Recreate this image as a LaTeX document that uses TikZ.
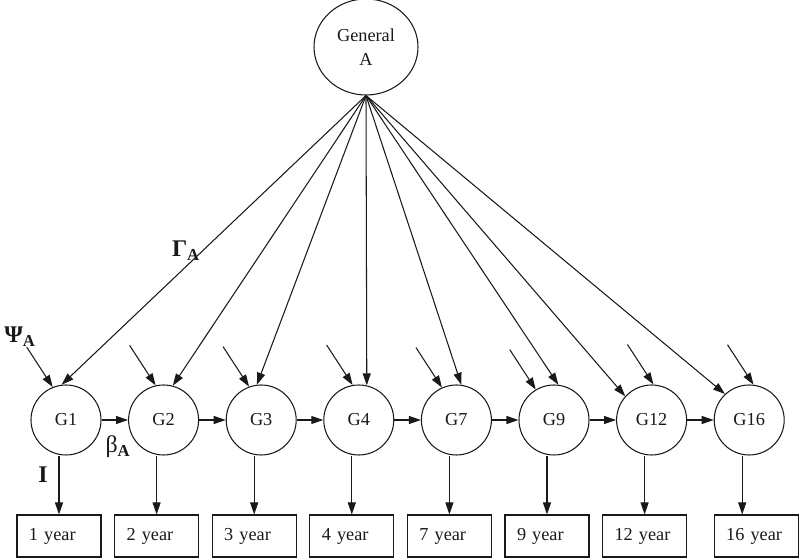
\documentclass[tikz,border=0pt]{standalone}
\usepackage{amsmath, amssymb}
\usepackage{bm}
\usepackage{fontspec}
\setmainfont{Liberation Serif}
\usetikzlibrary{arrows.meta, positioning, shapes.geometric, calc}
\definecolor{inkBlack}{gray}{0.1}

\begin{document}
\begin{tikzpicture}[>={Triangle[length=3mm, width=2mm]}, line width=0.75pt, inkBlack,
        latent/.style={circle, draw, minimum size=1.75cm, inner sep=0pt, font=\fontsize{13}{15}\selectfont},
        obsbox/.style={rectangle, draw, text width=1.5cm, inner xsep=0.3cm, minimum height=1.05cm,
                       align=left, font=\fontsize{13}{15}\selectfont},
        greek/.style={font=\fontsize{17}{19}\selectfont\bfseries, inner sep=1pt}]
            \useasboundingbox (0,0) rectangle (20,13.975);
            \node[ellipse, draw, minimum width=2.6cm, minimum height=2.4cm, align=center,
                  font=\fontsize{13}{15}\selectfont] (General) at (9.15,12.8) {General\\[2pt]A};
            % latent factors, loadings and observed ages
            \foreach \name/\age/\ga/\pa/\bo [count=\i from 0] in {G1/1/97/112/-0.175, G2/2/75/103/-0.175,
                    G3/3/97/110/-0.175, G4/4/77/100/-0.175, G7/7/82/114/-0.175, G9/9/83/121/-0.175,
                    G12/12/138/87/-0.175, G16/16/133/83/0.175} {
                \node[latent] (\name) at (1.65+2.44*\i, 3.475) {\name};
                \node[obsbox] (b\age) at (1.65+2.44*\i+\bo, 0.575) {\age\ year};
                \coordinate (psi\age) at ($(\name.\pa)+(-0.65,1)$);
                \draw[->] (General.south) -- (\name.\ga);
                \draw[->] (psi\age) -- (\name.\pa);
                \draw[->] ([xshift=-1.75mm]\name.south) -- ([xshift=-1.75mm]\name.south |- b\age.north);
            }
            \foreach \from/\to in {G1/G2, G2/G3, G3/G4, G4/G7, G7/G9, G9/G12, G12/G16}
                \draw[->] (\from) -- (\to);
            \node[greek] (gammaA) at (4.65,7.7) {Γ\textsubscript{A}};
            \node[greek] (psiA) at (0.5,5.55) {Ψ\textsubscript{A}};
            \node[greek, font=\fontsize{17}{19}\selectfont] (betaA) at (2.95,2.8) {β\textsubscript{\bfseries A}};
            \node[greek] (iA) at (1.075,2.1) {I};
        \end{tikzpicture}
\end{document}
